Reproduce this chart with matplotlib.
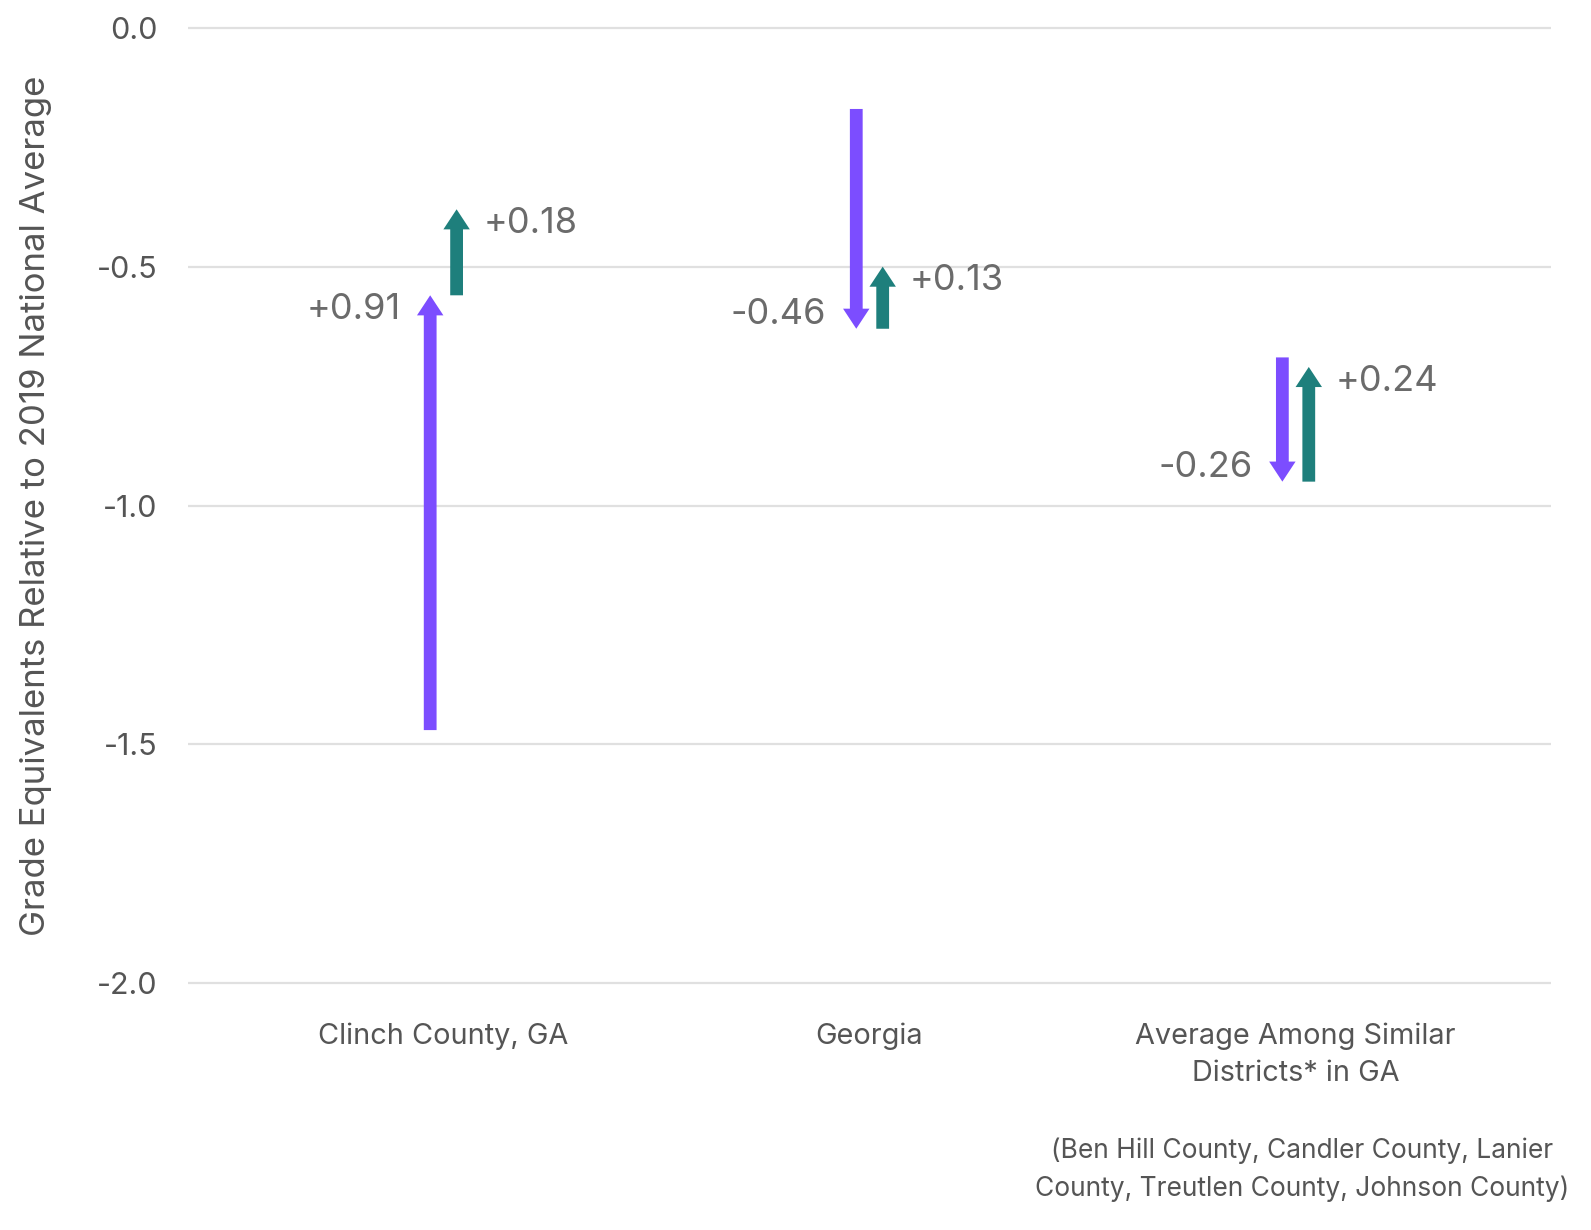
import numpy as np
import matplotlib.pyplot as plt

# data
categories = ['Clinch County, GA', 'Georgia', 'Average Among Similar\nDistricts* in GA']
start_2019 = [-1.47, -0.17, -0.69]     # purple arrow start
change_1 = [0.91, -0.46, -0.26]        # purple arrow change
change_2 = [0.18, 0.13, 0.24]          # teal arrow change
footnote = '(Ben Hill County, Candler County, Lanier\nCounty, Treutlen County, Johnson County)'

purple = '#7c4dff'
teal = '#1e7f7c'
grey = '#555555'

plt.rcParams['font.family'] = ['Inter', 'DejaVu Sans']

fig = plt.figure(figsize=(15.91, 12.3), dpi=100)
ax = fig.add_axes([0.118, 0.199, 0.857, 0.780])

x = np.arange(len(categories))
off = 0.031
shaft = 0.030
hw = 0.062
hl = 0.042

for i in range(len(categories)):
    s = start_2019[i]
    e1 = s + change_1[i]
    e2 = e1 + change_2[i]
    # purple arrow
    ax.arrow(x[i] - off, s, 0, change_1[i], width=shaft, head_width=hw, head_length=hl,
             length_includes_head=True, color=purple, lw=0, zorder=3)
    # teal arrow
    ax.arrow(x[i] + off, e1, 0, change_2[i], width=shaft, head_width=hw, head_length=hl,
             length_includes_head=True, color=teal, lw=0, zorder=3)
    d1 = -0.03 * np.sign(change_1[i])
    d2 = -0.03 * np.sign(change_2[i])
    ax.text(x[i] - off - 0.07, e1 + d1, '%+.2f' % change_1[i], ha='right', va='center',
            fontsize=26, color='#6b6b6b')
    ax.text(x[i] + off + 0.063, e2 + d2, '%+.2f' % change_2[i], ha='left', va='center',
            fontsize=26, color='#6b6b6b')

ax.set_xlim(-0.6, 2.6)
ax.set_ylim(-2.004, 0.004)
ax.set_yticks([0, -0.5, -1.0, -1.5, -2.0])
ax.set_yticklabels(['0.0', '-0.5', '-1.0', '-1.5', '-2.0'])
ax.set_xticks(x)
ax.set_xticklabels(categories)
ax.tick_params(axis='y', length=0, pad=22, labelsize=22, labelcolor=grey)
ax.tick_params(axis='x', length=0, pad=27, labelsize=20.8, labelcolor=grey)
for lbl in ax.get_xticklabels():
    lbl.set_linespacing(1.45)
ax.grid(axis='y', color='#e0e0e0', lw=1.6, zorder=0)
ax.set_axisbelow(True)
for sp in ax.spines.values():
    sp.set_visible(False)

ax.set_ylabel('Grade Equivalents Relative to 2019 National Average', fontsize=25,
              color=grey)
ax.yaxis.set_label_coords(-0.0995, 0.5)

fig.text(1302 / 1591, 1 - 1170 / 1230, footnote, ha='center', va='center',
         fontsize=19, color=grey, linespacing=1.55)

fig.savefig('out.png', dpi=100, facecolor='white')
